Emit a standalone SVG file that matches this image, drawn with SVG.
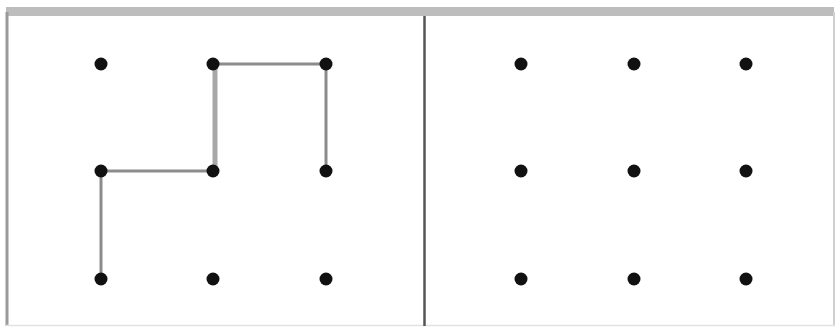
<svg xmlns="http://www.w3.org/2000/svg" width="837" height="327" viewBox="0 0 837 327">
  <defs>
    <style>
      .dot { fill: #111111; }
      .link { stroke: #8c8c8c; stroke-width: 3; fill: none; stroke-linecap: butt; }
      .link-thick { stroke: #a8a8a8; stroke-width: 5; fill: none; }
    </style>
  </defs>
  <rect x="0" y="0" width="837" height="327" fill="#ffffff"/>
  <g id="frame">
    <rect x="6" y="7" width="828" height="9" fill="#bdbdbd"/>
    <line x1="7" y1="12" x2="7" y2="326" stroke="#9a9a9a" stroke-width="3"/>
    <line x1="834" y1="12" x2="834" y2="326" stroke="#d0d0d0" stroke-width="2"/>
    <line x1="6" y1="325.5" x2="835" y2="325.5" stroke="#e2e2e2" stroke-width="1.5"/>
    <line x1="424.5" y1="16" x2="424.5" y2="326" stroke="#555555" stroke-width="2.5"/>
  </g>
  <g id="connectors">
    <line class="link" x1="101" y1="279" x2="101" y2="171"/>
    <line class="link" x1="101" y1="171" x2="213" y2="171"/>
    <line class="link-thick" x1="215" y1="171" x2="215" y2="64"/>
    <line class="link" x1="213" y1="64" x2="326" y2="64"/>
    <line class="link" x1="326" y1="64" x2="326" y2="171"/>
  </g>
  <g id="left-grid">
    <g id="L11"><circle class="dot" cx="101" cy="64" r="6.5"/></g>
    <g id="L12"><circle class="dot" cx="213" cy="64" r="6.5"/></g>
    <g id="L13"><circle class="dot" cx="326" cy="64" r="6.5"/></g>
    <g id="L21"><circle class="dot" cx="101" cy="171" r="6.5"/></g>
    <g id="L22"><circle class="dot" cx="213" cy="171" r="6.5"/></g>
    <g id="L23"><circle class="dot" cx="326" cy="171" r="6.5"/></g>
    <g id="L31"><circle class="dot" cx="101" cy="279" r="6.5"/></g>
    <g id="L32"><circle class="dot" cx="213" cy="279" r="6.5"/></g>
    <g id="L33"><circle class="dot" cx="326" cy="279" r="6.5"/></g>
  </g>
  <g id="right-grid">
    <g id="R11"><circle class="dot" cx="521" cy="64" r="6.5"/></g>
    <g id="R12"><circle class="dot" cx="634" cy="64" r="6.5"/></g>
    <g id="R13"><circle class="dot" cx="746" cy="64" r="6.5"/></g>
    <g id="R21"><circle class="dot" cx="521" cy="171" r="6.5"/></g>
    <g id="R22"><circle class="dot" cx="634" cy="171" r="6.5"/></g>
    <g id="R23"><circle class="dot" cx="746" cy="171" r="6.5"/></g>
    <g id="R31"><circle class="dot" cx="521" cy="279" r="6.5"/></g>
    <g id="R32"><circle class="dot" cx="634" cy="279" r="6.5"/></g>
    <g id="R33"><circle class="dot" cx="746" cy="279" r="6.5"/></g>
  </g>
</svg>
